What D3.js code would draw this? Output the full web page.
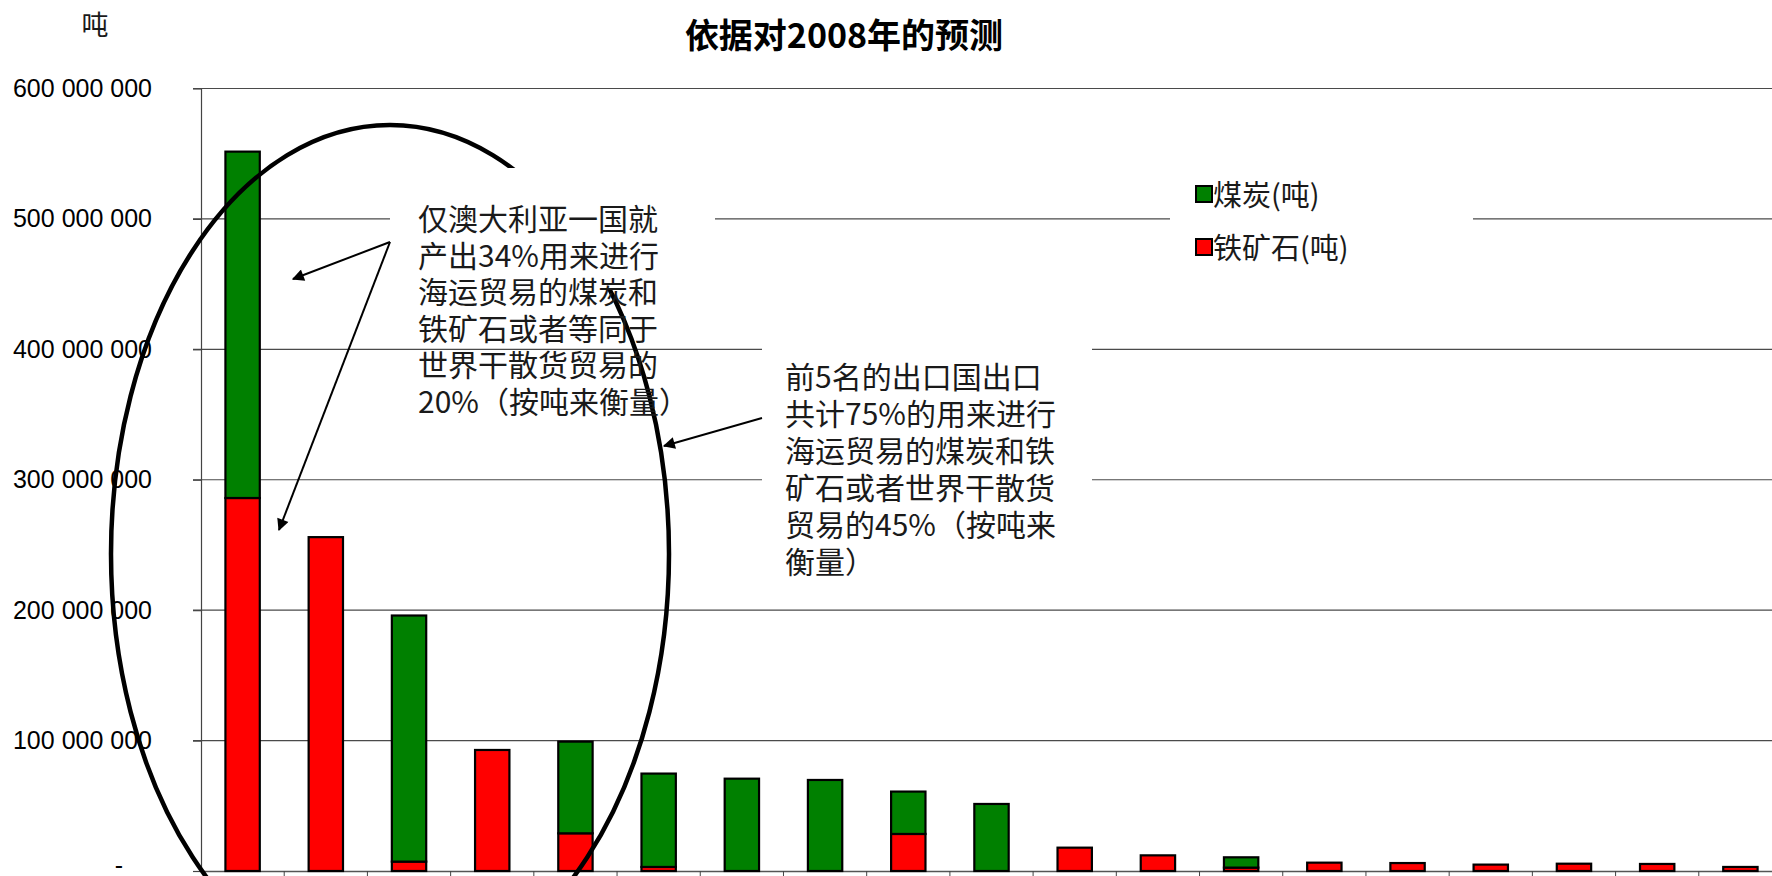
<!DOCTYPE html>
<html>
<head>
<meta charset="utf-8">
<script src="https://cdn.jsdelivr.net/npm/d3@7"></script>
<style>
  body { margin: 0; background: #fff; }
  svg { display: block; }
  .tick text { font-family: "Liberation Sans", Arial, sans-serif; }
  .cjk { font-family: "Noto Sans CJK SC", sans-serif; }
</style>
</head>
<body>
<svg></svg>
<script>
const dims = { width: 1772, height: 876 }
const margin = { top: 88.5, left: 201, bottom: 5, right: -10 }

// exporters ranked by tonnage (names are not shown in the picture)
const categories = d3.range(1, 20).map(String)
// millions of tonnes
const coal = [265.6, 0, 188.7, 0, 70.3, 71.6, 70.8, 69.8, 32.5, 51.4, 0, 0, 7.9, 0, 0, 0, 0, 0, 0]
const iron = [286, 256, 7.2, 92.8, 28.9, 3.1, 0, 0, 28.4, 0, 17.9, 12, 2.6, 6.4, 6.1, 4.9, 5.6, 5.4, 3.1]
const seriesKeys = ['iron', 'coal']
const seriesColors = { coal: '#008000', iron: '#ff0000' }
const legendItems = [['coal', '煤炭(吨)'], ['iron', '铁矿石(吨)']]
const yTicks = [0, 100e6, 200e6, 300e6, 400e6, 500e6, 600e6]

const title = '依据对2008年的预测'
const note1 = ['仅澳大利亚一国就', '产出34%用来进行', '海运贸易的煤炭和', '铁矿石或者等同于', '世界干散货贸易的', '20%（按吨来衡量）']
const note2 = ['前5名的出口国出口', '共计75%的用来进行', '海运贸易的煤炭和铁', '矿石或者世界干散货', '贸易的45%（按吨来', '衡量）']

const rows = categories.map((c, i) => ({ cat: c, coal: coal[i] * 1e6, iron: iron[i] * 1e6 }))

const svg = d3.select('svg')
  .attr('width', dims.width)
  .attr('height', dims.height)

const x = d3.scaleBand()
  .domain(categories)
  .range([margin.left, 1782])
  .paddingInner(0.587)
  .paddingOuter(0.2935)

const y = d3.scaleLinear()
  .domain([0, 600e6])
  .range([871, margin.top])

const fmt = d => d === 0 ? '-' : d3.format(',')(d).replace(/,/g, ' ')

// gridlines
svg.append('g')
  .selectAll('line').data(yTicks.filter(d => d > 0))
  .enter().append('line')
    .attr('x1', margin.left - 8).attr('x2', dims.width)
    .attr('y1', d => y(d)).attr('y2', d => y(d))
    .attr('stroke', '#4a4a4a').attr('stroke-width', 1.2)

// y axis
const yAxisG = svg.append('g')
  .attr('transform', `translate(${margin.left},0)`)
  .call(d3.axisLeft(y).tickValues(yTicks).tickSize(8).tickSizeOuter(0).tickPadding(41).tickFormat(fmt))
yAxisG.select('.domain').attr('stroke', '#444').attr('stroke-width', 1.2)
yAxisG.selectAll('.tick line').attr('stroke', '#444').attr('stroke-width', 1.2)
yAxisG.selectAll('.tick text')
  .attr('font-size', 25).attr('fill', '#000')
  .attr('dx', d => d === 0 ? -29 : 0)
  .attr('dy', d => d === 0 ? '0.1em' : '0.32em')

// x axis with ticks at category boundaries
const xAxisG = svg.append('g')
  .attr('transform', `translate(0,${y(0)})`)
  .call(d3.axisBottom(x).tickSize(7).tickSizeOuter(0).tickFormat(''))
xAxisG.select('.domain').attr('stroke', '#555').attr('stroke-width', 1.5)
xAxisG.selectAll('.tick line')
  .attr('stroke', '#444')
  .attr('transform', `translate(${x.step() / 2},0)`)

// stacked bars
const stacked = d3.stack().keys(seriesKeys)(rows)
svg.append('g')
  .selectAll('g').data(stacked)
  .enter().append('g')
    .attr('fill', d => seriesColors[d.key])
  .selectAll('rect').data(d => d.filter(s => s[1] - s[0] > 0))
  .enter().append('rect')
    .attr('x', d => x(d.data.cat))
    .attr('width', x.bandwidth())
    .attr('y', d => y(d[1]))
    .attr('height', d => y(d[0]) - y(d[1]))
    .attr('stroke', '#000')
    .attr('stroke-width', 2.2)

// big ellipse around the top five
svg.append('ellipse')
  .attr('cx', 390).attr('cy', 554)
  .attr('rx', 279).attr('ry', 429)
  .attr('fill', 'none')
  .attr('stroke', '#000')
  .attr('stroke-width', 4.5)

// arrow marker
svg.append('defs').append('marker')
  .attr('id', 'arrow')
  .attr('viewBox', '0 0 10 10')
  .attr('refX', 9).attr('refY', 5)
  .attr('markerWidth', 7).attr('markerHeight', 6)
  .attr('markerUnits', 'strokeWidth')
  .attr('orient', 'auto')
  .append('path')
    .attr('d', 'M0,0L10,5L0,10z')
    .attr('fill', '#000')

// note boxes (white fill hides what is behind, like the original)
const boxes = [
  { x: 390, y: 168, w: 325, h: 122 },
  { x: 762, y: 338, w: 330, h: 254 },
  { x: 1170, y: 165, w: 303, h: 110 }
]
svg.append('g')
  .selectAll('rect').data(boxes)
  .enter().append('rect')
    .attr('x', d => d.x).attr('y', d => d.y)
    .attr('width', d => d.w).attr('height', d => d.h)
    .attr('fill', '#fff')

const arrows = [
  [390, 242, 293, 279],
  [390, 242, 279, 530],
  [762, 418, 664, 446]
]
svg.append('g')
  .selectAll('line').data(arrows)
  .enter().append('line')
    .attr('x1', d => d[0]).attr('y1', d => d[1])
    .attr('x2', d => d[2]).attr('y2', d => d[3])
    .attr('stroke', '#000')
    .attr('stroke-width', 2)
    .attr('marker-end', 'url(#arrow)')

const noteText = (lines, x0, y0, step) => {
  svg.append('g')
    .selectAll('text').data(lines)
    .enter().append('text')
      .attr('class', 'cjk')
      .attr('x', x0)
      .attr('y', (d, i) => y0 + i * step)
      .attr('dominant-baseline', 'central')
      .attr('font-size', 30)
      .attr('fill', '#1a1a1a')
      .text(d => d)
}
noteText(note1, 418, 217, 36.6)
noteText(note2, 785, 375, 37)

// legend
const legend = svg.append('g')
  .selectAll('g').data(legendItems)
  .enter().append('g')
    .attr('transform', (d, i) => `translate(1196,${186 + i * 53})`)
legend.append('rect')
  .attr('width', 16).attr('height', 16)
  .attr('fill', d => seriesColors[d[0]])
  .attr('stroke', '#000').attr('stroke-width', 2)
legend.append('text')
  .attr('class', 'cjk')
  .attr('x', 17).attr('y', 7)
  .attr('dominant-baseline', 'central')
  .attr('font-size', 29)
  .attr('fill', '#1a1a1a')
  .text(d => d[1])

// title and unit
svg.append('text')
  .attr('class', 'cjk')
  .attr('x', 844).attr('y', 33)
  .attr('text-anchor', 'middle')
  .attr('dominant-baseline', 'central')
  .attr('font-size', 34)
  .attr('font-weight', 'bold')
  .text(title)

svg.append('text')
  .attr('class', 'cjk')
  .attr('x', 95).attr('y', 23)
  .attr('text-anchor', 'middle')
  .attr('dominant-baseline', 'central')
  .attr('font-size', 27)
  .attr('fill', '#1a1a1a')
  .text('吨')
</script>
</body>
</html>
